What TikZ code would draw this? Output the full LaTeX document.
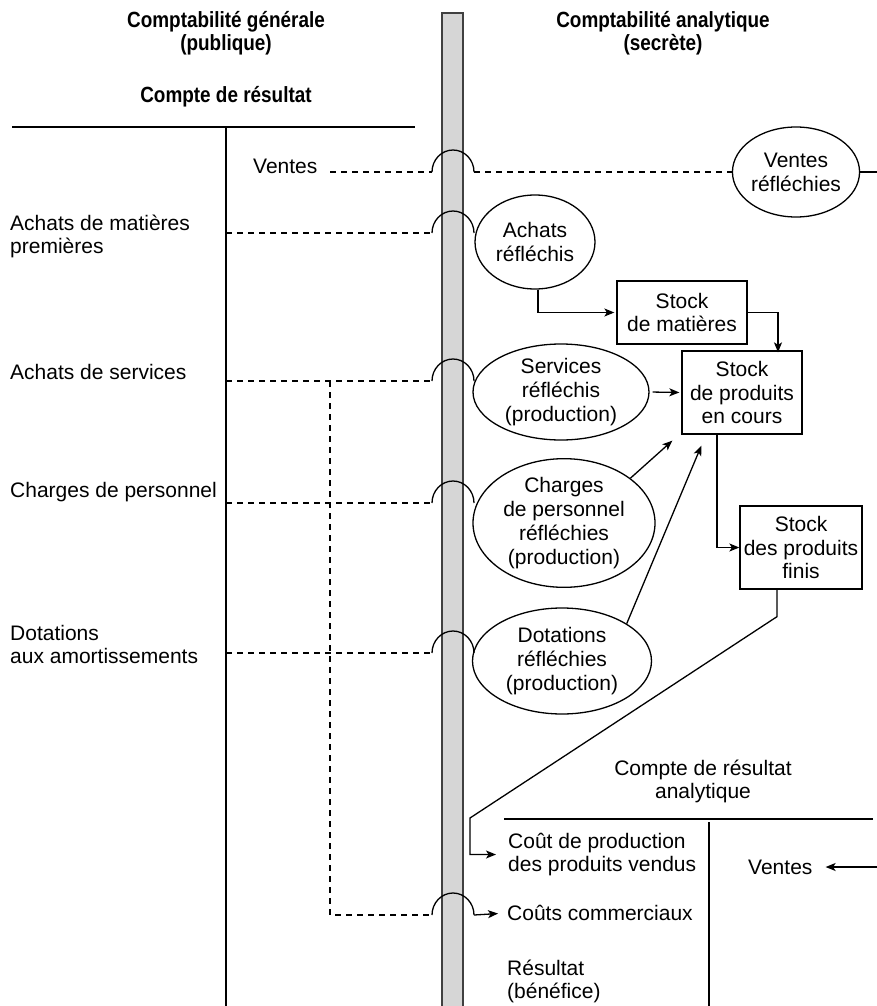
\documentclass[tikz,border=0pt]{standalone}
\usepackage{fontspec}
\setmainfont{Liberation Sans}
\newfontfamily\titlefont{Liberation Sans}[FakeStretch=0.86]
\usetikzlibrary{arrows.meta,shapes.geometric}
\begin{document}
\begin{tikzpicture}[x=1pt,y=-1pt,
  every node/.style={font=\fontsize{21}{23.8}\selectfont, inner sep=0pt, align=center},
  lbl/.style={anchor=west, align=left},
  ttl/.style={font=\titlefont\bfseries\fontsize{22}{22.5}\selectfont},
  ln/.style={line width=1.3pt},
  dsh/.style={line width=1.2pt, dash pattern=on 6pt off 5pt},
  arr/.style={line width=1.3pt, -{Stealth[length=10pt,width=8pt,inset=2.5pt]}},
  ell/.style={draw, ellipse, line width=1.3pt},
  boxn/.style={draw, rectangle, line width=1.3pt},
  hop/.style={line width=1.3pt}]
\useasboundingbox (0,0) rectangle (877,1006);
% separating bar
\filldraw[fill=black!16, draw=black!75, line width=1.6pt] (442,1015) -- (442,13) -- (463,13) -- (463,1015);
% titles
\node[ttl] (tg) at (226,33) {Comptabilité générale\\(publique)};
\node[ttl] (ta) at (663,33) {Comptabilité analytique\\(secrète)};
\node[ttl] (tcr) at (226,97) {Compte de résultat};
% left T account
\draw[ln] (12,127) -- (415,127);
\draw[ln] (226,127) -- (226,1015);
% left labels
\node[lbl] (lv) at (253,166) {Ventes};
\node[lbl] (lam) at (10,236.5) {Achats de matières\\premières};
\node[lbl] (las) at (10,372) {Achats de services};
\node[lbl] (lcp) at (10,492) {Charges de personnel};
\node[lbl] (lda) at (10,644.5) {Dotations\\aux amortissements};
% analytic nodes
\node[ell, minimum width=120pt, minimum height=90pt] (vr) at (796,172) {Ventes\\réfléchies};
\node[ell, minimum width=120pt, minimum height=94pt] (ar) at (535,242) {Achats\\réfléchis};
\node[boxn, minimum width=130pt, minimum height=63pt] (sm) at (682,312.5) {Stock\\de matières};
\node[boxn, minimum width=120pt, minimum height=83pt] (sp) at (742,392.5) {Stock\\de produits\\en cours};
\node[ell, minimum width=176pt, minimum height=96pt] (sv) at (561,392) {Services\\réfléchis\\(production)};
\node[ell, minimum width=182pt, minimum height=126pt] (ch) at (564,523) {Charges\\de personnel\\réfléchies\\(production)};
\node[ell, minimum width=179pt, minimum height=106pt] (dt) at (562,661) {Dotations\\réfléchies\\(production)};
\node[boxn, minimum width=122pt, minimum height=83pt] (sf) at (801,547.5) {Stock\\des produits\\finis};
% analytic income statement
\node (tca) at (703,781.5) {Compte de résultat\\analytique};
\draw[ln] (504,819) -- (873,819);
\draw[ln] (709,822) -- (709,1015);
\node[lbl] (cpv) at (508,854.5) {Coût de production\\des produits vendus};
\node[lbl] (cc) at (507,913) {Coûts commerciaux};
\node[lbl] (res) at (507,981.5) {Résultat\\(bénéfice)};
\node[lbl] (vR) at (748,867) {Ventes};
% coordinates
\coordinate (hv1) at (432,172);  \coordinate (hv2) at (474,172);
\coordinate (ha1) at (432,233);  \coordinate (ha2) at (474,233);
\coordinate (hs1) at (432,381);  \coordinate (hs2) at (474,381);
\coordinate (hc1) at (432,503);  \coordinate (hc2) at (474,503);
\coordinate (hd1) at (432,653);  \coordinate (hd2) at (474,653);
\coordinate (hk1) at (432,915);  \coordinate (hk2) at (474,915);
\coordinate (redge) at (877,172);
\coordinate (redge2) at (877,867);
\coordinate (vd) at (330,381);
\coordinate (vk) at (330,915);
% dashed transfer lines
\draw[dsh] (330,172) -- (hv1);
\draw[dsh] (hv2) -- (vr.west);
\draw[ln] (vr.east) -- (redge);
\draw[dsh] (226,233) -- (ha1);
\draw[dsh] (226,381) -- (hs1);
\draw[dsh] (226,503) -- (hc1);
\draw[dsh] (226,653) -- (hd1);
\draw[dsh] (vd) -- (vk) -- (hk1);
% hops over the bar
\foreach \p in {hv1,ha1,hs1,hc1,hd1,hk1}
  \draw[hop] (\p) arc[start angle=180, end angle=360, x radius=21, y radius=22];
% flows
\draw[arr] ([xshift=3pt]ar.south) |- ([xshift=-2pt]sm.west);
\draw[arr] (sm.east) -| ([xshift=36pt,yshift=-2pt]sp.north);
\draw[arr, shorten <=3pt, shorten >=2pt] (sv.east) -- (sp.west);
\draw[arr] (ch.34) -- ([shift={(-9,6)}]sp.south west);
\draw[arr] (dt.30) -- ([shift={(20,11)}]sp.south west);
\draw[arr] ([xshift=-25pt]sp.south) |- (sf.west);
\draw[arr, shorten >=12pt] ([xshift=-24pt]sf.south) -- ++(0,27) -- (470,818) |- (cpv.west);
\draw[arr, shorten >=9pt] (hk2) -- (cc.west);
\draw[arr, shorten >=13pt] (redge2) -- (vR.east);
\end{tikzpicture}
\end{document}
